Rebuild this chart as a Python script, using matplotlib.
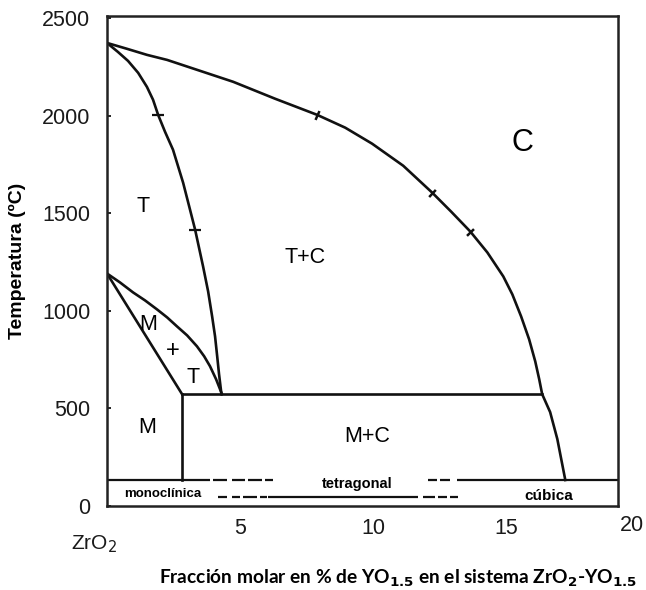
import matplotlib
matplotlib.use('Agg')
import matplotlib.pyplot as plt

plt.rcParams['font.family'] = ['Liberation Sans', 'DejaVu Sans']

# limite T+C / C (cubica)
c_x = [0, 0.75, 1.50, 2.26, 3.50, 4.74, 6.32, 7.89, 8.95, 9.96, 11.13, 12.22, 12.93, 13.65,
       14.29, 14.89, 15.23, 15.56, 15.86, 16.09, 16.24, 16.35, 16.65, 16.92, 17.22]
c_y = [2372, 2342, 2311, 2285, 2229, 2173, 2086, 2004, 1938, 1856, 1743, 1605, 1508, 1406,
       1299, 1176, 1084, 971, 854, 741, 649, 573, 481, 343, 133]

# limite T / T+C
t_x = [0, 0.41, 0.79, 1.17, 1.50, 1.73, 1.92, 2.18, 2.48, 2.86, 3.08, 3.31, 3.61, 3.80,
       3.95, 4.06, 4.14, 4.21, 4.30]
t_y = [2372, 2326, 2280, 2219, 2147, 2081, 2004, 1917, 1825, 1656, 1539, 1416, 1227, 1099,
       971, 869, 767, 675, 573]

# lente M+T
mt_up_x = [0, 0.49, 0.98, 1.43, 1.88, 2.26, 2.63, 3.01, 3.38, 3.65, 3.87, 4.10, 4.32]
mt_up_y = [1191, 1145, 1094, 1053, 1007, 966, 920, 874, 818, 767, 716, 649, 573]
mt_lo_x = [0, 2.82]
mt_lo_y = [1191, 573]

# eutectoide y linea vertical M / M+C
eut_x = [2.82, 16.35]
eut_y = 573
vert_x = 2.82
vert_y = [573, 133]

# marcas sobre las curvas
marks_t = [(1.92, 2004), (3.31, 1416)]
marks_c = [(7.89, 2004, -24), (12.22, 1605, -43), (13.65, 1406, -46)]

# banda inferior (materiales)
band_top = 133
band_low = 46
top_solid = [(0, 3.87), (13.16, 19.2)]
top_dash = [(3.98, 4.51), (4.70, 5.19), (5.30, 5.83), (5.94, 6.24), (12.07, 12.41), (12.52, 12.89)]
low_solid = [(6.05, 11.69)]
low_dash = [(4.17, 4.51), (4.70, 5.0), (5.11, 5.64), (5.75, 6.02), (11.88, 12.33), (12.44, 12.78), (12.89, 13.2)]

fig = plt.figure(figsize=(6.46, 5.90), dpi=100)
ax = fig.add_axes([107/646, 1-506/590, 511/646, 490/590])

lw = 1.9
k = '#111111'
ax.plot(c_x, c_y, color=k, lw=lw)
ax.plot(t_x, t_y, color=k, lw=lw)
ax.plot(mt_up_x, mt_up_y, color=k, lw=lw)
ax.plot(mt_lo_x, mt_lo_y, color=k, lw=lw)
ax.plot(eut_x, [eut_y, eut_y], color=k, lw=lw)
ax.plot([vert_x, vert_x], vert_y, color=k, lw=lw)

for x, y in marks_t:
    ax.plot(x, y, marker='_', ms=9, mew=1.6, color=k)
for x, y, ang in marks_c:
    ax.plot(x, y, marker=(2, 0, ang), ms=7, mew=1.8, color=k)

for segs, yy in [(top_solid, band_top), (top_dash, band_top), (low_solid, band_low), (low_dash, band_low)]:
    for a, b in segs:
        ax.plot([a, b], [yy, yy], color=k, lw=1.6, solid_capstyle='butt')

ax.set_xlim(0, 19.2)
ax.set_ylim(0, 2510)
ax.set_xticks([5, 10, 15])
ax.set_yticks([0, 500, 1000, 1500, 2000, 2500])
ax.tick_params(axis='x', length=0, pad=9, labelsize=15.5, labelcolor='#1a1a1a')
ax.tick_params(axis='y', direction='in', length=3, width=1.2, pad=12, labelsize=15.5, labelcolor='#1a1a1a')
for s in ax.spines.values():
    s.set_linewidth(1.8)
    s.set_color('#222222')

ax.text(19.74, -100, '20', fontsize=15.5, ha='center', va='center', color='#1a1a1a', clip_on=False)
ax.text(-0.50, -194, 'ZrO$_2$', fontsize=15, ha='center', va='center', color='#1a1a1a', clip_on=False)

ax.set_ylabel('Temperatura (ºC)', fontsize=14, fontweight='bold')
ax.yaxis.set_label_coords(-0.159, 0.5)

fig.text(398/646, 1-578/590, 'Fracción molar en % de YO$_{\\mathbf{1.5}}$ en el sistema ZrO$_{\\mathbf{2}}$-YO$_{\\mathbf{1.5}}$',
         fontsize=13.8, fontweight='bold', ha='center', va='center', family='Lato')

fs = 15.5
ax.text(1.35, 1534, 'T', fontsize=fs, ha='center', va='center')
ax.text(7.44, 1273, 'T+C', fontsize=fs, ha='center', va='center')
ax.text(15.6, 1861, 'C', fontsize=22, ha='center', va='center')
ax.text(1.54, 930, 'M', fontsize=fs, ha='center', va='center')
ax.text(2.48, 792, '+', fontsize=17, ha='center', va='center')
ax.text(3.23, 660, 'T', fontsize=fs, ha='center', va='center')
ax.text(1.50, 404, 'M', fontsize=fs, ha='center', va='center')
ax.text(9.77, 358, 'M+C', fontsize=fs, ha='center', va='center')
ax.text(2.1, 61, 'monoclínica', fontsize=9.5, fontweight='bold', ha='center', va='center')
ax.text(9.40, 112, 'tetragonal', fontsize=10.5, fontweight='bold', ha='center', va='center')
ax.text(16.6, 51, 'cúbica', fontsize=11, fontweight='bold', ha='center', va='center')

fig.savefig('out.png', dpi=100)
